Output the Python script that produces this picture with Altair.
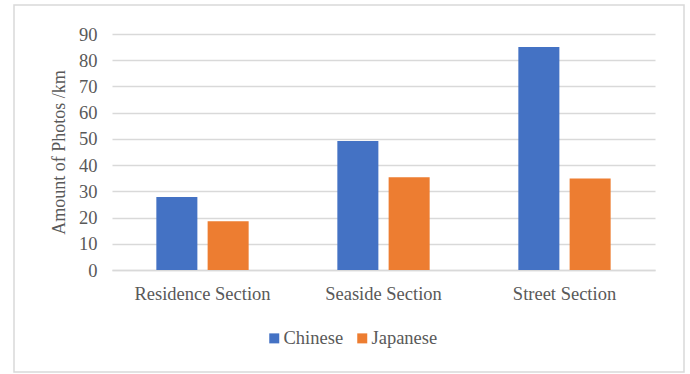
import altair as alt
import pandas as pd

sections = ["Residence Section", "Seaside Section", "Street Section"]
chinese = [27.8, 49.2, 85.0]
japanese = [18.6, 35.4, 34.9]
groups = ["Chinese", "Japanese"]
colors = ["#4472C4", "#ED7D31"]
y_ticks = [0, 10, 20, 30, 40, 50, 60, 70, 80, 90]

rows = []
for s, c, j in zip(sections, chinese, japanese):
    rows.append({"section": s, "group": "Chinese", "value": c})
    rows.append({"section": s, "group": "Japanese", "value": j})
df = pd.DataFrame(rows)

TEXT = "#595959"
FONT = "Liberation Serif"

bars = alt.Chart(df).mark_bar().encode(
    x=alt.X("section:N", sort=sections, title=None,
            scale=alt.Scale(paddingInner=0.49, paddingOuter=0.245),
            axis=alt.Axis(labelAngle=0, ticks=False, labelPadding=14,
                          labelFont=FONT, labelFontSize=18.5, labelColor=TEXT,
                          domainColor="#d9d9d9", domainWidth=1.5)),
    xOffset=alt.XOffset("group:N", sort=groups,
                        scale=alt.Scale(paddingInner=0.2, paddingOuter=0)),
    y=alt.Y("value:Q", title="Amount of Photos /km",
            scale=alt.Scale(domain=[0, 90], nice=False),
            axis=alt.Axis(values=y_ticks, ticks=False, domain=False,
                          labelPadding=15, titlePadding=10,
                          labelFont=FONT, labelFontSize=18.5, labelColor=TEXT,
                          titleFont=FONT, titleFontSize=18, titleColor=TEXT,
                          titleFontWeight="normal",
                          gridColor="#d9d9d9", gridWidth=1.5)),
    color=alt.Color("group:N", sort=groups,
                    scale=alt.Scale(domain=groups, range=colors),
                    legend=alt.Legend(title=None, orient="none", direction="horizontal",
                                      legendX=153, legendY=295,
                                      labelFont=FONT, labelFontSize=18.5, labelColor=TEXT,
                                      symbolType="square", symbolSize=100,
                                      symbolStrokeWidth=0, labelOffset=0,
                                      columnPadding=9)),
)

frame = alt.Chart(pd.DataFrame({"k": [0]})).mark_rect(
    fill=None, stroke="#d9d9d9", strokeWidth=1.5, clip=False
).encode(
    x=alt.value(-98), x2=alt.value(572), y=alt.value(-29), y2=alt.value(338)
)

chart = alt.layer(frame, bars).properties(
    width=543, height=236,
    autosize=alt.AutoSizeParams(type="none"),
    padding={"left": 112, "top": 34, "right": 35, "bottom": 104},
    background="white",
).configure(font=FONT).configure_view(stroke=None)

chart.save("out.html", embed_options={"renderer": "svg", "actions": False})
